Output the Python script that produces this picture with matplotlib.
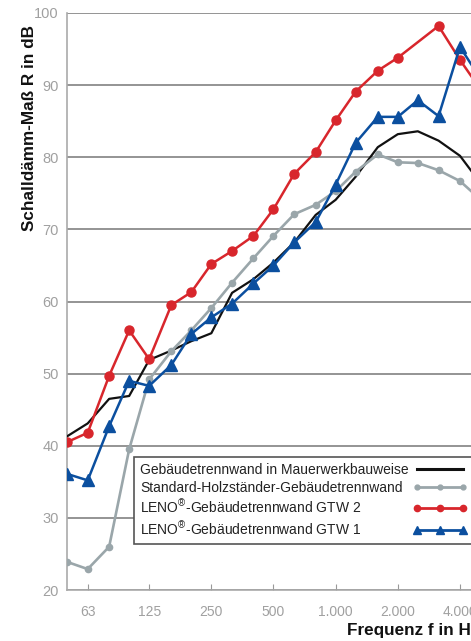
import matplotlib.pyplot as plt
from matplotlib.lines import Line2D

plt.rcParams['font.family'] = ['Liberation Sans', 'DejaVu Sans']
plt.rcParams['mathtext.fontset'] = 'custom'
plt.rcParams['mathtext.rm'] = 'Liberation Sans'

# Terzband-Frequenzen in Hz
freq = [50, 63, 80, 100, 125, 160, 200, 250, 315, 400, 500, 630, 800,
        1000, 1250, 1600, 2000, 2500, 3150, 4000, 5000]

# Schalldämm-Maß R in dB
mauerwerk = [41.3, 43.1, 46.5, 46.9, 51.9, 53.2, 54.5, 55.6, 61.2, 63.1, 65.4,
             68.2, 72.0, 74.1, 77.3, 81.4, 83.2, 83.6, 82.3, 80.2, 76.5]
holzstaender = [23.9, 22.9, 26.0, 39.5, 49.2, 53.1, 56.0, 59.1, 62.6, 66.0, 69.1,
                72.1, 73.4, 75.3, 78.0, 80.4, 79.3, 79.2, 78.2, 76.7, 74.2]
# GTW 2 hat keinen Wert bei 2500 Hz
freq_gtw2 = [50, 63, 80, 100, 125, 160, 200, 250, 315, 400, 500, 630, 800,
             1000, 1250, 1600, 2000, 3150, 4000, 5000]
gtw2 = [40.5, 41.8, 49.7, 56.0, 52.0, 59.5, 61.3, 65.2, 67.0, 69.1, 72.8,
        77.7, 80.7, 85.1, 89.1, 92.0, 93.8, 98.2, 93.5, 89.5]
gtw1 = [36.1, 35.2, 42.7, 49.0, 48.3, 51.2, 55.5, 57.8, 59.7, 62.5, 65.0,
        68.2, 71.0, 76.2, 82.0, 85.6, 85.6, 87.9, 85.7, 95.3, 91.0]

labels = ['Gebäudetrennwand in Mauerwerkbauweise',
          'Standard-Holzständer-Gebäudetrennwand',
          'LENO$^{\\mathrm{®}}$-Gebäudetrennwand GTW 2',
          'LENO$^{\\mathrm{®}}$-Gebäudetrennwand GTW 1']

xticks = [63, 125, 250, 500, 1000, 2000, 4000]
xticklabels = ['63', '125', '250', '500', '1.000', '2.000', '4.000']
yticks = [20, 30, 40, 50, 60, 70, 80, 90, 100]

c_black = '#111111'
c_gray = '#9aa6aa'
c_red = '#d8262c'
c_blue = '#0b4f9f'

W, H = 471, 641
fig = plt.figure(figsize=(W / 100, H / 100), dpi=100)
# axes reicht bewusst über den rechten Bildrand hinaus
ax = fig.add_axes([67 / W, (H - 590) / H, 433 / W, 577 / H])

ax.plot(freq, mauerwerk, color=c_black, lw=1.6, zorder=3)
ax.plot(freq, holzstaender, color=c_gray, lw=1.9, marker='o', ms=4.5, zorder=4)
ax.plot(freq_gtw2, gtw2, color=c_red, lw=1.8, marker='o', ms=6.5, zorder=5)
ax.plot(freq, gtw1, color=c_blue, lw=1.8, marker='^', ms=9, zorder=6)

ax.set_xscale('log')
ax.set_xlim(50, 6250)
ax.set_ylim(20, 100)
ax.set_xticks(xticks)
ax.set_xticklabels(xticklabels)
ax.xaxis.set_minor_locator(plt.NullLocator())
ax.set_yticks(yticks)

ax.grid(axis='y', color='#777777', lw=1.1, zorder=0)
ax.tick_params(axis='x', direction='in', length=4, color='#999999',
               labelsize=10, labelcolor='#a0a0a0', pad=11)
ax.tick_params(axis='y', length=0, labelsize=10.5, labelcolor='#a0a0a0', pad=6)
for s in ['top', 'right']:
    ax.spines[s].set_visible(False)
ax.spines['left'].set_color('#aaaaaa')
ax.spines['bottom'].set_color('#aaaaaa')
ax.spines['left'].set_linewidth(1.2)
ax.spines['bottom'].set_linewidth(1.2)

# Legende mit kleineren Markern
handles = [
    Line2D([], [], color=c_black, lw=2.2),
    Line2D([], [], color=c_gray, lw=2, marker='o', ms=3.5),
    Line2D([], [], color=c_red, lw=2, marker='o', ms=4.5),
    Line2D([], [], color=c_blue, lw=2, marker='^', ms=5.5),
]
leg = ax.legend(handles, labels, loc='upper left',
                bbox_to_anchor=((134 - 67) / 433, (590 - 457) / 577),
                markerfirst=False, numpoints=3, handlelength=3.9,
                handletextpad=0.3, labelspacing=0.26, borderpad=0.45,
                fancybox=False, framealpha=1, edgecolor='#555555',
                fontsize=10, borderaxespad=0)
leg.get_frame().set_linewidth(1.2)
leg.set_zorder(10)
for t in leg.get_texts():
    t.set_color('#222222')

fig.text(30 / W, (H - 25) / H, 'Schalldämm-Maß R in dB', rotation=90,
         ha='center', va='top', fontsize=12.3, fontweight='bold', color='#111111')
fig.text(347 / W, (H - 631) / H, 'Frequenz f in Hz', ha='left', va='center',
         fontsize=12.3, fontweight='bold', color='#111111')

# Legendentexte links bündig, Linien rechts bündig
fig.canvas.draw()
widths = [t.get_window_extent().width for t in leg.get_texts()]
rows = leg._legend_handle_box.get_children()[0].get_children()
for row, w in zip(rows, widths):
    row.sep += (max(widths) - w) * 72 / fig.dpi

fig.savefig('out.png', dpi=100)
